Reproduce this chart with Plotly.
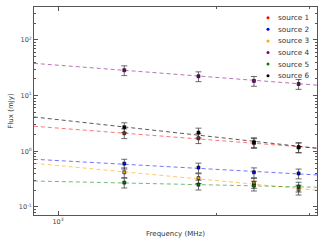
import plotly.graph_objects as go

# ---- data ----
freqs = [1335, 1845, 2350, 2855]  # MHz
sources = ["source 1", "source 2", "source 3", "source 4", "source 5", "source 6"]
colors = ["red", "blue", "orange", "purple", "green", "black"]
flux_s1 = [2.11, 1.72, 1.41, 1.17]
flux_s2 = [0.60, 0.51, 0.42, 0.40]
flux_s3 = [0.42, 0.33, 0.27, 0.205]
flux_s4 = [28.6, 22.3, 18.4, 16.2]
flux_s5 = [0.274, 0.252, 0.242, 0.232]
flux_s6 = [2.71, 2.17, 1.46, 1.19]
fluxes = [flux_s1, flux_s2, flux_s3, flux_s4, flux_s5, flux_s6]
err_frac = 0.2

# power-law fit lines, read at the two ends of the frequency axis
fit_freqs = [900, 3100]
fit_s1 = [2.82, 1.14]
fit_s2 = [0.72, 0.376]
fit_s3 = [0.61, 0.20]
fit_s4 = [38.0, 15.4]
fit_s5 = [0.293, 0.226]
fit_s6 = [4.14, 1.13]
fits = [fit_s1, fit_s2, fit_s3, fit_s4, fit_s5, fit_s6]

line_rgba = {
    "red": "rgba(255,0,0,0.55)",
    "blue": "rgba(0,0,255,0.55)",
    "orange": "rgba(255,165,0,0.6)",
    "purple": "rgba(128,0,128,0.55)",
    "green": "rgba(0,128,0,0.55)",
    "black": "rgba(0,0,0,0.65)",
}

fig = go.Figure()
for name, col, fl, ft in zip(sources, colors, fluxes, fits):
    fig.add_trace(go.Scatter(
        x=fit_freqs, y=ft, mode="lines",
        line=dict(color=line_rgba[col], width=1, dash="4px,3px"),
        showlegend=False, hoverinfo="skip"))
for name, col, fl, ft in zip(sources, colors, fluxes, fits):
    fig.add_trace(go.Scatter(
        x=freqs, y=fl, mode="markers", name=name,
        marker=dict(symbol="square", size=3, color=col,
                    line=dict(color="black", width=0.6)),
        error_y=dict(type="data", array=[v * err_frac for v in fl],
                     color="rgba(60,60,60,0.75)", thickness=1, width=3),
        showlegend=False))

# plot-area geometry (pixels)
W, H = 325, 246
L, R, T, B = 34, 8, 7, 31
pw, ph = W - L - R, H - T - B

# custom compact legend
for i, (name, col) in enumerate(zip(sources, colors)):
    ypx = 17.7 + 11.6 * i
    yp = (H - B - ypx) / ph
    xm = (268 - L) / pw
    xt = (275.5 - L) / pw
    fig.add_shape(type="circle", xref="paper", yref="paper",
                  xsizemode="pixel", ysizemode="pixel",
                  xanchor=xm, yanchor=yp, x0=-1.5, x1=1.5, y0=-1.5, y1=1.5,
                  fillcolor=col, line=dict(width=0))
    fig.add_annotation(x=xt, y=yp, xref="paper", yref="paper",
                       text=name, showarrow=False, xanchor="left",
                       yanchor="middle", font=dict(size=7.3, color="#333"))

axis_common = dict(
    showline=True, linecolor="#555", linewidth=1, mirror="ticks",
    ticks="inside", ticklen=4, tickcolor="#555", showgrid=False,
    zeroline=False, tickfont=dict(size=6.5, color="#444"), automargin=False,
)

fig.update_xaxes(
    type="log", range=[2.9545, 3.4905],
    tickmode="array", tickvals=[1000], ticktext=["10<sup>3</sup>"],
    minor=dict(tickmode="array", tickvals=[900, 2000, 3000], ticks="inside",
               ticklen=2, tickcolor="#555"),
    title=dict(text="Frequency (MHz)", font=dict(size=7, color="#333"), standoff=6),
    **axis_common)

yminor = []
for d in [0.01, 0.1, 1, 10, 100]:
    for k in range(2, 10):
        yminor.append(k * d)
fig.update_yaxes(
    type="log", range=[-1.144, 2.592],
    tickmode="array", tickvals=[0.1, 1, 10, 100],
    ticktext=["10<sup>-1</sup>", "10<sup>0</sup>", "10<sup>1</sup>", "10<sup>2</sup>"],
    minor=dict(tickmode="array", tickvals=yminor, ticks="inside",
               ticklen=2, tickcolor="#555"),
    title=dict(text="Flux (mJy)", font=dict(size=7, color="#333"), standoff=4),
    **axis_common)

fig.update_layout(
    width=W, height=H,
    margin=dict(l=L, r=R, t=T, b=B),
    paper_bgcolor="white", plot_bgcolor="white",
    font=dict(family="DejaVu Sans", size=7, color="#333"),
    showlegend=False,
)

fig.write_html("out.html", config={"displayModeBar": False},
               post_script="document.body.style.margin='0px';")
